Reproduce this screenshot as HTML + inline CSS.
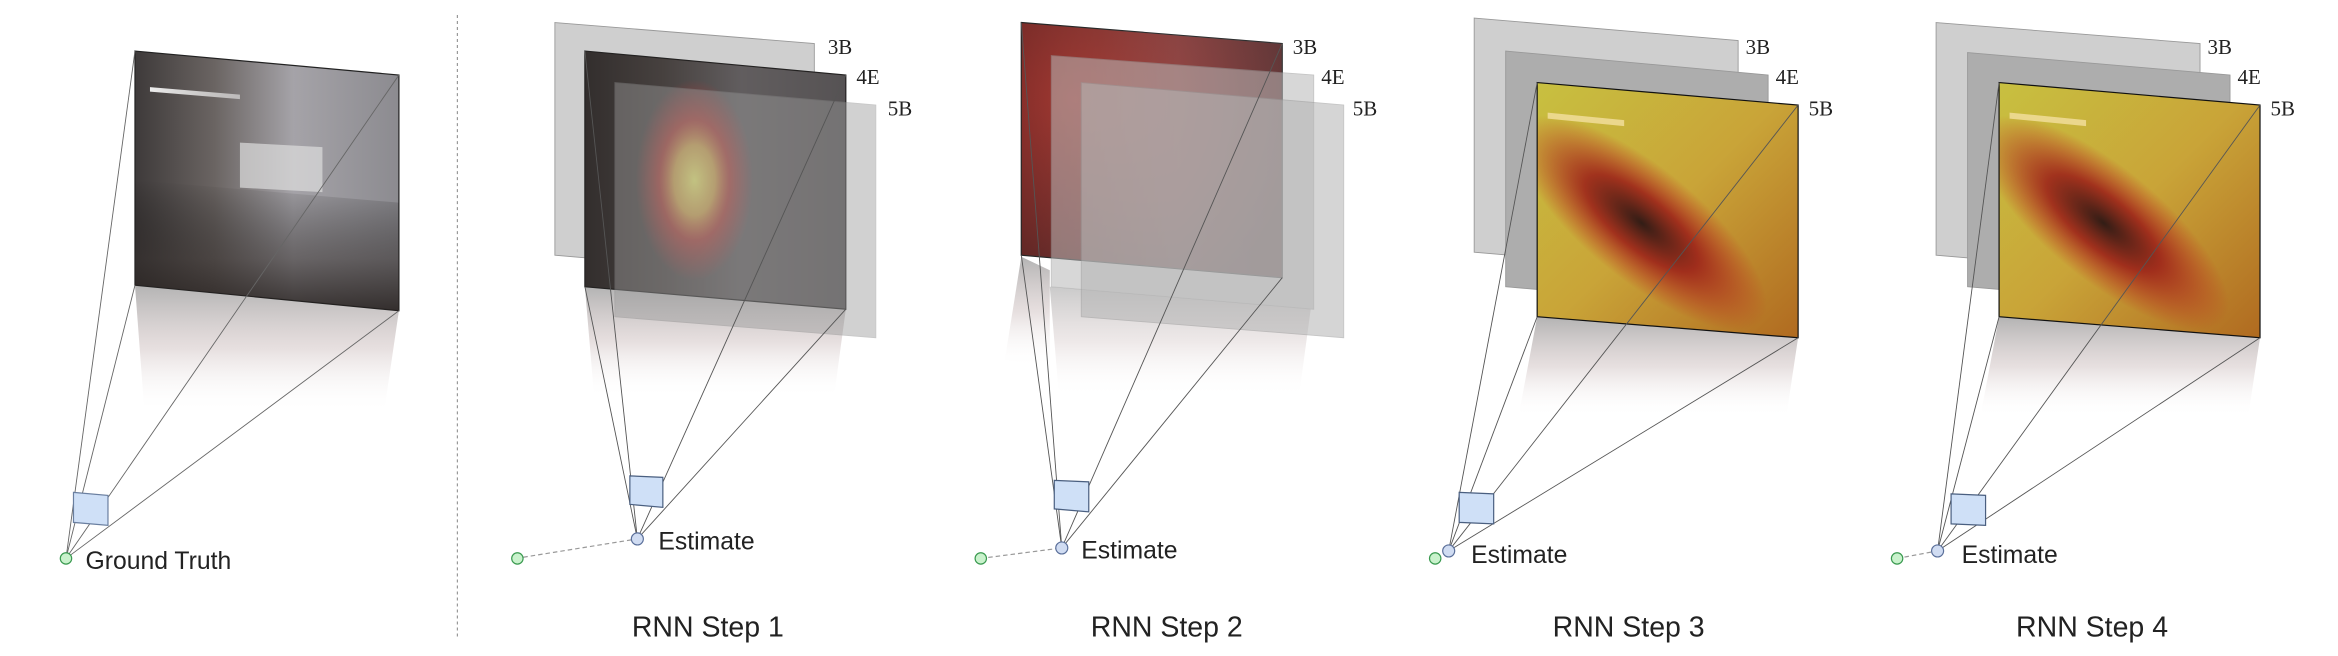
<!DOCTYPE html>
<html><head><meta charset="utf-8"><style>
html,body{margin:0;padding:0;background:#fff;}
svg{display:block;}
.lbl{font-family:"Liberation Sans","DejaVu Sans",sans-serif;fill:#222;}
.ser{font-family:"Liberation Serif",serif;fill:#222;font-size:14px;}
</style></head><body>
<svg width="2338" height="656" viewBox="0 0 1559 437" preserveAspectRatio="none">
<defs>
<linearGradient id="refl" x1="0" y1="0" x2="0" y2="1"><stop offset="0" stop-color="#9a9a9a" stop-opacity="0.75"/><stop offset="0.5" stop-color="#c9b9b9" stop-opacity="0.45"/><stop offset="1" stop-color="#fff" stop-opacity="0"/></linearGradient>
<linearGradient id="photo" x1="0" y1="0" x2="1" y2="0"><stop offset="0" stop-color="#3e3a3a"/><stop offset="0.3" stop-color="#6a6462"/><stop offset="0.6" stop-color="#a5a3a8"/><stop offset="1" stop-color="#8c8b90"/></linearGradient>
<linearGradient id="floor" x1="0" y1="0" x2="0" y2="1"><stop offset="0" stop-color="#000" stop-opacity="0"/><stop offset="0.6" stop-color="#2c2624" stop-opacity="0.5"/><stop offset="1" stop-color="#241e1c" stop-opacity="0.85"/></linearGradient>
<radialGradient id="blob1" cx="0.42" cy="0.5" r="0.3" gradientTransform="translate(0.42,0.5) scale(0.75,1.3) translate(-0.42,-0.5)"><stop offset="0" stop-color="#ecec70" stop-opacity="0.95"/><stop offset="0.35" stop-color="#e0b050" stop-opacity="0.85"/><stop offset="0.6" stop-color="#d83a30" stop-opacity="0.6"/><stop offset="1" stop-color="#d03030" stop-opacity="0"/></radialGradient>
<radialGradient id="red2" cx="0.2" cy="0.3" r="0.9"><stop offset="0" stop-color="#b83028"/><stop offset="0.6" stop-color="#7a2320"/><stop offset="1" stop-color="#4a1a1a"/></radialGradient>
<linearGradient id="heatbase" x1="0" y1="0" x2="1" y2="1"><stop offset="0" stop-color="#c8c040"/><stop offset="0.5" stop-color="#c9a438"/><stop offset="1" stop-color="#b06a20"/></linearGradient>
<radialGradient id="heatblob" cx="0.4" cy="0.55" r="0.4" gradientTransform="translate(0.4,0.55) rotate(40) scale(1.5,0.55) translate(-0.4,-0.55)"><stop offset="0" stop-color="#2a1614" stop-opacity="0.95"/><stop offset="0.45" stop-color="#9a1c18" stop-opacity="0.85"/><stop offset="1" stop-color="#c02020" stop-opacity="0"/></radialGradient>
<linearGradient id="strip" x1="0" y1="0" x2="1" y2="0"><stop offset="0" stop-color="#fff" stop-opacity="0.9"/><stop offset="1" stop-color="#fff" stop-opacity="0.5"/></linearGradient>
</defs>

<g>
<polygon points="90,190 266,207 256,275 96,270" fill="url(#refl)"/>
<polygon points="90,34 266,50 266,207 90,190" fill="url(#photo)" stroke="#222" stroke-width="0.8"/>
<polygon points="90,120 266,135 266,207 90,190" fill="url(#floor)"/>
<polygon points="100,58 160,63 160,66 100,61" fill="url(#strip)"/>
<polygon points="160,95 215,98 215,128 160,125" fill="#ddd" opacity="0.7"/>
<g stroke="#666" stroke-width="0.6" fill="none">
<line x1="44" y1="372" x2="90" y2="34"/><line x1="44" y1="372" x2="266" y2="50"/>
<line x1="44" y1="372" x2="266" y2="207"/><line x1="44" y1="372" x2="90" y2="190"/>
</g>
<polygon points="49,328 72,330 72,350 49,348" fill="#cfe0f7" stroke="#6a7fa0" stroke-width="0.8"/>
<circle cx="44" cy="372" r="3.8" fill="#c9f2cc" stroke="#3a9a50" stroke-width="0.8"/>
<text x="57" y="379" class="lbl" font-size="16.5">Ground Truth</text>
</g>

<line x1="305" y1="10" x2="305" y2="425" stroke="#999" stroke-width="0.8" stroke-dasharray="2,2"/>

<g>
<polygon points="390,191 564,206 556,265 396,262" fill="url(#refl)"/>
<polygon points="370,15 543,29 543,185 370,170" fill="#cfcfcf" stroke="#999" stroke-width="0.6"/>
<polygon points="390,34 564,50 564,206 390,191" fill="url(#photo)" stroke="#222" stroke-width="0.8"/>
<polygon points="390,34 564,50 564,206 390,191" fill="#2a2422" opacity="0.55"/>
<polygon points="390,34 564,50 564,206 390,191" fill="url(#blob1)"/>
<polygon points="410,55 584,70 584,225 410,211" fill="#9a9a9a" opacity="0.45" stroke="#888" stroke-width="0.6"/>
<text x="552" y="36" class="ser">3B</text><text x="571" y="56" class="ser">4E</text><text x="592" y="77" class="ser">5B</text>
<g stroke="#555" stroke-width="0.6" fill="none">
<line x1="425" y1="359" x2="390" y2="34"/><line x1="425" y1="359" x2="564" y2="50"/>
<line x1="425" y1="359" x2="564" y2="206"/><line x1="425" y1="359" x2="390" y2="191"/>
</g>
<line x1="344" y1="372" x2="425" y2="359" stroke="#999" stroke-width="0.8" stroke-dasharray="3,2"/>
<polygon points="420,317 442,318 442,338 420,336" fill="#cfe0f7" stroke="#4a5f80" stroke-width="0.8"/>
<circle cx="425" cy="359" r="4" fill="#d0dcf2" stroke="#5a6f9a" stroke-width="0.8"/>
<circle cx="345" cy="372" r="3.8" fill="#c9f2cc" stroke="#3a9a50" stroke-width="0.8"/>
<text x="439" y="366" class="lbl" font-size="16.5">Estimate</text>
<text x="472" y="424" class="lbl" font-size="19" text-anchor="middle">RNN Step 1</text>
</g>

<g>
<polygon points="681,171 700,180 700,245 670,240" fill="url(#refl)"/>
<polygon points="700,191 874,206 866,265 706,262" fill="url(#refl)" opacity="0.7"/>
<polygon points="681,15 855,29 855,185 681,170" fill="url(#red2)" stroke="#222" stroke-width="0.8"/>
<polygon points="681,15 855,29 855,185 681,170" fill="url(#photo)" opacity="0.25"/>
<polygon points="701,37 876,50 876,206 701,191" fill="#b8b8b8" opacity="0.55" stroke="#999" stroke-width="0.6"/>
<polygon points="721,55 896,70 896,225 721,211" fill="#b4b4b4" opacity="0.55" stroke="#999" stroke-width="0.6"/>
<text x="862" y="36" class="ser">3B</text><text x="881" y="56" class="ser">4E</text><text x="902" y="77" class="ser">5B</text>
<g stroke="#555" stroke-width="0.6" fill="none">
<line x1="708" y1="365" x2="681" y2="15"/><line x1="708" y1="365" x2="855" y2="29"/>
<line x1="708" y1="365" x2="855" y2="185"/><line x1="708" y1="365" x2="681" y2="170"/>
</g>
<line x1="654" y1="372" x2="708" y2="365" stroke="#999" stroke-width="0.8" stroke-dasharray="3,2"/>
<polygon points="703,320 726,321 726,341 703,339" fill="#cfe0f7" stroke="#4a5f80" stroke-width="0.8"/>
<circle cx="708" cy="365" r="4" fill="#d0dcf2" stroke="#5a6f9a" stroke-width="0.8"/>
<circle cx="654" cy="372" r="3.8" fill="#c9f2cc" stroke="#3a9a50" stroke-width="0.8"/>
<text x="721" y="372" class="lbl" font-size="16.5">Estimate</text>
<text x="778" y="424" class="lbl" font-size="19" text-anchor="middle">RNN Step 2</text>
</g>

<g>
<polygon points="1025,211 1199,225 1191,278 1013,275" fill="url(#refl)"/>
<polygon points="983,12 1159,27 1159,183 983,168" fill="#cfcfcf" stroke="#999" stroke-width="0.6"/>
<polygon points="1004,34 1179,50 1179,206 1004,191" fill="#adadad" stroke="#999" stroke-width="0.6"/>
<polygon points="1025,55 1199,70 1199,225 1025,211" fill="url(#heatbase)"/>
<polygon points="1025,55 1199,70 1199,225 1025,211" fill="url(#heatblob)" stroke="#111" stroke-width="0.8"/>
<polygon points="1032,75 1083,80 1083,84 1032,79" fill="#f4e0a0" opacity="0.8"/>
<text x="1164" y="36" class="ser">3B</text><text x="1184" y="56" class="ser">4E</text><text x="1206" y="77" class="ser">5B</text>
<g stroke="#555" stroke-width="0.6" fill="none">
<line x1="966" y1="367" x2="1025" y2="55"/><line x1="966" y1="367" x2="1199" y2="70"/>
<line x1="966" y1="367" x2="1199" y2="225"/><line x1="966" y1="367" x2="1025" y2="211"/>
</g>
<polygon points="973,328 996,329 996,349 973,348" fill="#cfe0f7" stroke="#4a5f80" stroke-width="0.8"/>
<circle cx="966" cy="367" r="4" fill="#d0dcf2" stroke="#5a6f9a" stroke-width="0.8"/>
<circle cx="957" cy="372" r="3.8" fill="#c9f2cc" stroke="#3a9a50" stroke-width="0.8"/>
<text x="981" y="375" class="lbl" font-size="16.5">Estimate</text>
<text x="1086" y="424" class="lbl" font-size="19" text-anchor="middle">RNN Step 3</text>
</g>

<g>
<polygon points="1333,211 1507,225 1499,278 1321,275" fill="url(#refl)"/>
<polygon points="1291,15 1467,29 1467,185 1291,170" fill="#cfcfcf" stroke="#999" stroke-width="0.6"/>
<polygon points="1312,35 1487,50 1487,206 1312,191" fill="#adadad" stroke="#999" stroke-width="0.6"/>
<polygon points="1333,55 1507,70 1507,225 1333,211" fill="url(#heatbase)"/>
<polygon points="1333,55 1507,70 1507,225 1333,211" fill="url(#heatblob)" stroke="#111" stroke-width="0.8"/>
<polygon points="1340,75 1391,80 1391,84 1340,79" fill="#f4e0a0" opacity="0.8"/>
<text x="1472" y="36" class="ser">3B</text><text x="1492" y="56" class="ser">4E</text><text x="1514" y="77" class="ser">5B</text>
<g stroke="#555" stroke-width="0.6" fill="none">
<line x1="1292" y1="367" x2="1333" y2="55"/><line x1="1292" y1="367" x2="1507" y2="70"/>
<line x1="1292" y1="367" x2="1507" y2="225"/><line x1="1292" y1="367" x2="1333" y2="211"/>
</g>
<line x1="1265" y1="372" x2="1292" y2="367" stroke="#999" stroke-width="0.8" stroke-dasharray="3,2"/>
<polygon points="1301,329 1324,330 1324,350 1301,349" fill="#cfe0f7" stroke="#4a5f80" stroke-width="0.8"/>
<circle cx="1292" cy="367" r="4" fill="#d0dcf2" stroke="#5a6f9a" stroke-width="0.8"/>
<circle cx="1265" cy="372" r="3.8" fill="#c9f2cc" stroke="#3a9a50" stroke-width="0.8"/>
<text x="1308" y="375" class="lbl" font-size="16.5">Estimate</text>
<text x="1395" y="424" class="lbl" font-size="19" text-anchor="middle">RNN Step 4</text>
</g>
</svg>
</body></html>
